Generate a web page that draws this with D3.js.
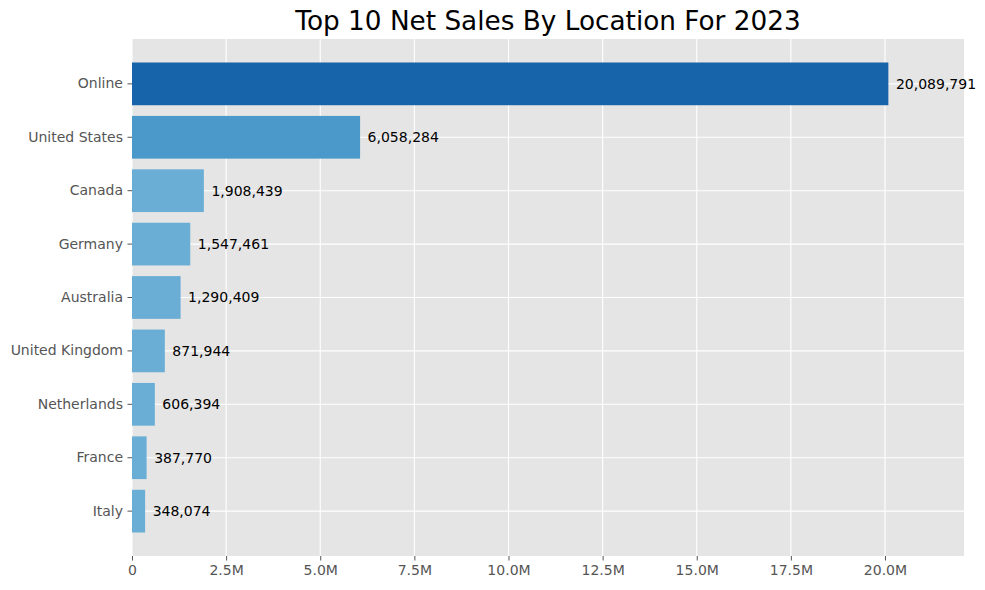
<!DOCTYPE html>
<html>
<head>
<meta charset="utf-8">
<script src="https://cdn.jsdelivr.net/npm/d3@7"></script>
<style>
  body { margin: 0; background: #fff; }
  svg text { font-family: "DejaVu Sans", sans-serif; }
</style>
</head>
<body>
<div id="plot"></div>
<script>
const locations = ['Online', 'United States', 'Canada', 'Germany', 'Australia',
  'United Kingdom', 'Netherlands', 'France', 'Italy'];
const netSales = [20089791, 6058284, 1908439, 1547461, 1290409, 871944, 606394, 387770, 348074];
const barColors = ['#1764ab', '#4b98ca', '#6aaed6', '#6aaed6', '#6aaed6',
  '#6aaed6', '#6aaed6', '#6aaed6', '#6aaed6'];
const xTicks = [0, 2500000, 5000000, 7500000, 10000000, 12500000, 15000000, 17500000, 20000000];
const xTickLabels = ['0', '2.5M', '5.0M', '7.5M', '10.0M', '12.5M', '15.0M', '17.5M', '20.0M'];
const chartTitle = 'Top 10 Net Sales By Location For 2023';

const W = 985, H = 590;
const margin = { top: 39, right: 21, bottom: 34, left: 132 };
const width = W - margin.left - margin.right;
const height = H - margin.top - margin.bottom;

const svg = d3.select('#plot').append('svg')
  .attr('width', W).attr('height', H);

svg.append('text')
  .attr('x', margin.left + width / 2).attr('y', 30)
  .attr('text-anchor', 'middle')
  .attr('font-size', 26.3)
  .attr('fill', '#000')
  .text(chartTitle);

const g = svg.append('g').attr('transform', `translate(${margin.left},${margin.top})`);

var x = d3.scaleLinear().domain([0, d3.max(netSales) * 1.1]).range([0, width]);
var y = d3.scaleBand().domain(locations).range([0, height])
  .paddingInner(0.2).paddingOuter(0.44);

g.append('rect').attr('width', width).attr('height', height).attr('fill', '#e5e5e5');

// grid
g.selectAll('line.vgrid').data(xTicks).enter().append('line')
  .attr('x1', d => x(d)).attr('x2', d => x(d))
  .attr('y1', 0).attr('y2', height)
  .attr('stroke', '#fff').attr('stroke-width', 1.1);
g.selectAll('line.hgrid').data(locations).enter().append('line')
  .attr('x1', 0).attr('x2', width)
  .attr('y1', d => y(d) + y.bandwidth() / 2).attr('y2', d => y(d) + y.bandwidth() / 2)
  .attr('stroke', '#fff').attr('stroke-width', 1.1);

// bars
g.selectAll('rect.bar').data(netSales).enter().append('rect')
  .attr('class', 'bar')
  .attr('x', x(0))
  .attr('y', (d, i) => y(locations[i]))
  .attr('width', d => x(d) - x(0))
  .attr('height', y.bandwidth())
  .attr('fill', (d, i) => barColors[i]);

// value labels
g.selectAll('text.val').data(netSales).enter().append('text')
  .attr('x', d => x(d + 200000))
  .attr('y', (d, i) => y(locations[i]) + y.bandwidth() / 2)
  .attr('dy', '0.35em')
  .attr('font-size', 14)
  .attr('fill', '#000')
  .text(d => d3.format(',')(d));

// axes
var xAxis = d3.axisBottom(x).tickValues(xTicks)
  .tickFormat((d, i) => xTickLabels[i]).tickSize(4.5).tickPadding(5);
var yAxis = d3.axisLeft(y).tickSize(4.5).tickPadding(4.5);

const gx = g.append('g').attr('transform', `translate(0,${height})`).call(xAxis);
const gy = g.append('g').call(yAxis);
[gx, gy].forEach(function(ax) {
  ax.select('.domain').remove();
  ax.selectAll('line').attr('stroke', '#555');
  ax.selectAll('text').attr('fill', '#555').attr('font-size', 14)
    .attr('font-family', '"DejaVu Sans", sans-serif');
});
</script>
</body>
</html>
